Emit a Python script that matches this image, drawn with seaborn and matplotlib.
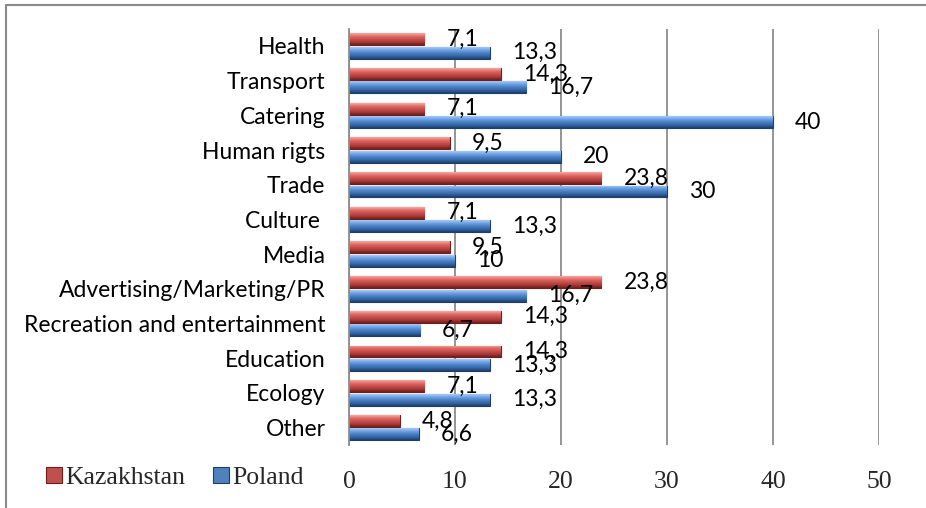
import numpy as np
import pandas as pd
import seaborn as sns
import matplotlib
matplotlib.use("Agg")
import matplotlib.pyplot as plt
from matplotlib.colors import LinearSegmentedColormap
from matplotlib.patches import Patch
from matplotlib.lines import Line2D

categories = ["Health", "Transport", "Catering", "Human rigts", "Trade", "Culture ",
              "Media", "Advertising/Marketing/PR", "Recreation and entertainment",
              "Education", "Ecology", "Other"]
kazakhstan = [7.1, 14.3, 7.1, 9.5, 23.8, 7.1, 9.5, 23.8, 14.3, 14.3, 7.1, 4.8]
poland = [13.3, 16.7, 40, 20, 30, 13.3, 10, 16.7, 6.7, 13.3, 13.3, 6.6]
series = ["Kazakhstan", "Poland"]
x_ticks = [0, 10, 20, 30, 40, 50]

df = pd.DataFrame({
    "category": categories * 2,
    "country": [series[0]] * len(categories) + [series[1]] * len(categories),
    "value": kazakhstan + poland,
})

W, H = 926, 508
sns.set_theme(style="white")
plt.rcParams["font.family"] = ["Lato", "DejaVu Sans"]

fig = plt.figure(figsize=(W / 100, H / 100), dpi=100)
fig.patch.set_facecolor("white")

left, right, top, bottom = 349, 879, 28.6, 445
ax = fig.add_axes([left / W, 1 - bottom / H, (right - left) / W, (bottom - top) / H])

mid = {"Kazakhstan": "#C0504D", "Poland": "#4F81BD"}
grads = {
    "Kazakhstan": ["#F7A9A6", "#E36D69", "#C8504C", "#A83A37", "#6E1E1C"],
    "Poland": ["#A9CBF2", "#6FA3E6", "#4A80C6", "#3566A6", "#1F3F6A"],
}

sns.barplot(data=df, y="category", x="value", hue="country", orient="h",
            palette=mid, width=0.78, gap=0.12, order=categories,
            hue_order=series, legend=False, ax=ax, saturation=1)

ax.set_xlim(0, 50)
ax.set_xticks(x_ticks)
ax.set_xticklabels([])
ax.tick_params(axis="x", length=0)
ax.tick_params(axis="y", length=0, pad=17, labelsize=16.5, labelcolor="black")
ax.set_xlabel("")
ax.set_ylabel("")
ax.grid(axis="x", color="#8C8C8C", linewidth=1.3)
ax.grid(axis="y", visible=False)
for s in ["top", "right", "bottom"]:
    ax.spines[s].set_visible(False)
ax.spines["left"].set_color("#8C8C8C")
ax.spines["left"].set_linewidth(1.3)
ylim = ax.get_ylim()

# bevel-like gradient on every bar drawn by seaborn
for cont, name in zip(ax.containers, series):
    cmap = LinearSegmentedColormap.from_list(name, grads[name])
    g = np.linspace(0, 1, 64).reshape(-1, 1)
    for p in cont.patches:
        x0, y0, w, h = p.get_x(), p.get_y(), p.get_width(), p.get_height()
        im = ax.imshow(g, cmap=cmap, aspect="auto", origin="upper",
                       extent=(x0, x0 + w, y0 + h, y0), zorder=p.get_zorder() + 0.1,
                       interpolation="bilinear")
        im.set_clip_path(p)
        p.set_edgecolor(grads[name][-1])
        p.set_linewidth(0.8)
    labels = [f"{v:g}".replace(".", ",") for v in cont.datavalues]
    ax.bar_label(cont, labels=labels, padding=16, fontsize=16.5, color="black")

ax.set_xlim(0, 50)
ax.set_ylim(ylim)

# value axis labels (serif, as in the reference)
ax2 = fig.add_axes([left / W, 1 - bottom / H, (right - left) / W, 0.0001])
ax2.set_xlim(0, 50)
ax2.set_xticks(x_ticks)
ax2.set_xticklabels([str(t) for t in x_ticks], family="Liberation Serif", fontsize=18.5)
ax2.tick_params(axis="x", length=0, pad=19)
ax2.set_yticks([])
for s in ax2.spines.values():
    s.set_visible(False)
ax2.patch.set_alpha(0)

handles = [Patch(facecolor=mid[n], edgecolor=grads[n][-1], linewidth=0.8) for n in series]
fig.legend(handles, series, loc="center left", bbox_to_anchor=(46 / W, 1 - 478 / H),
           ncol=2, frameon=False, prop={"family": "Liberation Serif", "size": 18.5},
           handlelength=0.62, handleheight=0.62, handletextpad=0.12,
           columnspacing=1.1, borderpad=0, borderaxespad=0)

# outer frame of the chart area
fig.add_artist(Line2D([6 / W, 1], [1 - 5 / H, 1 - 5 / H], color="#8A8A8A", linewidth=1.5))
fig.add_artist(Line2D([6 / W, 6 / W], [0, 1 - 5 / H], color="#8A8A8A", linewidth=1.5))

fig.savefig("out.png", dpi=100)
